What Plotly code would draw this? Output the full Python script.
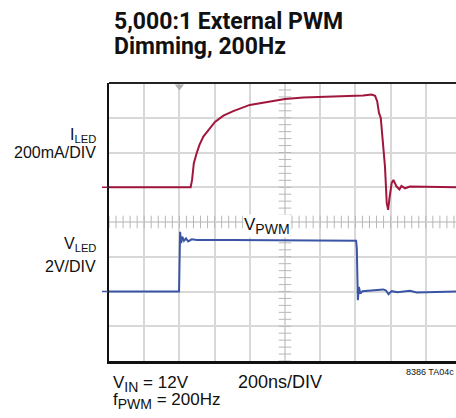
import numpy as np
import plotly.graph_objects as go

# ---- data (time in divisions, value in divisions) ----
i_led_t = [0, 2.32, 2.36, 2.41, 2.49, 2.57, 2.68, 2.82, 3.01, 3.25, 3.53, 4.0, 4.48, 5.0, 5.52,
           5.99, 6.56, 7.22, 7.46, 7.56, 7.62, 7.67, 7.72, 7.77, 7.84, 7.89, 7.93, 7.97, 8.03,
           8.08, 8.17, 8.25, 8.31, 8.41, 8.55, 10.0]
i_led_v = [5.0, 5.0, 5.21, 5.69, 5.98, 6.22, 6.46, 6.65, 6.88, 7.06, 7.19, 7.37, 7.46, 7.54, 7.58,
           7.60, 7.61, 7.64, 7.67, 7.63, 7.47, 7.14, 7.0, 6.46, 5.6, 4.55, 4.35, 4.7, 5.12,
           5.21, 5.02, 4.94, 5.04, 4.97, 5.02, 5.0]

v_led_t = [0, 1.99, 2.02, 2.05, 2.08, 2.13, 2.19, 2.25, 2.35, 2.5, 3.5, 6.94, 7.02, 7.04, 7.05,
           7.07, 7.10, 7.14, 7.2, 7.79, 7.87, 7.94, 8.03, 8.2, 8.55, 8.74, 10.0]
v_led_v = [2.0, 2.0, 3.72, 3.39, 3.58, 3.46, 3.53, 3.44, 3.50, 3.48, 3.48, 3.48, 3.46, 3.24, 2.62,
           1.75, 2.13, 1.94, 2.01, 2.06, 2.03, 1.92, 2.01, 1.98, 2.02, 1.97, 2.0]

i_led_ref = 5.0
v_led_ref = 2.0
trigger_t = 2.0

RED = "#a0163c"
BLUE = "#3b55a6"
GRID = "#d8d8d8"
TICK = "#b8b8b8"

W, H = 456, 418
ML, MR, MT, MB = 109, 0, 83, 57
pw, ph = W - ML - MR, H - MT - MB
div_x = 35.2
xmax = pw / div_x

def px(x):
    return (x - ML) / pw

def py(y):
    return (H - MB - y) / ph

fig = go.Figure()

# graticule minor ticks on the centre lines
minor_x = np.arange(0, 10.01, 0.2)
minor_y = np.arange(0, 8.01, 0.2)
fig.add_trace(go.Scatter(x=minor_x, y=[4] * len(minor_x), mode="markers",
                         marker=dict(symbol="line-ns", size=9, line=dict(width=1, color=TICK)),
                         hoverinfo="skip", showlegend=False))
fig.add_trace(go.Scatter(x=[5] * len(minor_y), y=minor_y, mode="markers",
                         marker=dict(symbol="line-ew", size=9, line=dict(width=1, color=TICK)),
                         hoverinfo="skip", showlegend=False))

fig.add_trace(go.Scatter(x=i_led_t, y=i_led_v, mode="lines",
                         line=dict(color=RED, width=2), showlegend=False))
fig.add_trace(go.Scatter(x=v_led_t, y=v_led_v, mode="lines",
                         line=dict(color=BLUE, width=2), showlegend=False))

# trigger marker
fig.add_trace(go.Scatter(x=[trigger_t], y=[7.9], mode="markers",
                         marker=dict(symbol="triangle-down", size=8, color="#b0b0b0"),
                         cliponaxis=False, hoverinfo="skip", showlegend=False))

shapes = [
    dict(type="line", xref="paper", yref="paper", x0=0, x1=1, y0=1, y1=1,
         line=dict(color="#222222", width=2)),
    dict(type="line", xref="paper", yref="y", x0=-7 / pw, x1=-1 / pw, y0=i_led_ref, y1=i_led_ref,
         line=dict(color=RED, width=1.5)),
    dict(type="line", xref="paper", yref="y", x0=-7 / pw, x1=-1 / pw, y0=v_led_ref, y1=v_led_ref,
         line=dict(color=BLUE, width=1.5)),
]

TF = "Roboto, Liberation Sans, Arial, sans-serif"
RF = "Liberation Sans, Arial, sans-serif"

def ann(text, x, y, size, fam=RF, xanchor="left", bg=None):
    d = dict(text=text, xref="paper", yref="paper", x=px(x), y=py(y), xanchor=xanchor,
             yanchor="middle", showarrow=False, font=dict(family=fam, size=size, color="#111111"))
    if bg:
        d["bgcolor"] = bg
        d["borderpad"] = 0
    return d

def sub(t, s):
    return "<sub><span style='font-size:%dpx'>%s</span></sub>" % (s, t)

annotations = [
    ann("<b>5,000:1 External PWM</b>", 112, 21.7, 23, TF),
    ann("<b>Dimming, 200Hz</b>", 112, 46.5, 23, TF),
    ann("I<sub>LED</sub>", 98, 135, 16, xanchor="right"),
    ann("200mA/DIV", 98, 152, 16, xanchor="right"),
    ann("V<sub>LED</sub>", 98, 244, 16, xanchor="right"),
    ann("2V/DIV", 98, 266, 16, xanchor="right"),
    ann("V" + sub("PWM", 14), 243, 226, 17, bg="white"),
    ann("V" + sub("IN", 14) + " = 12V", 111, 384, 17),
    ann("f" + sub("PWM", 14) + " = 200Hz", 111, 400.5, 17),
    ann("200ns/DIV", 236, 382, 18),
    ann("8386 TA04c", 456, 371.5, 9, xanchor="right"),
]

fig.update_layout(
    width=W, height=H, margin=dict(l=ML, r=MR, t=MT, b=MB, pad=0, autoexpand=False),
    paper_bgcolor="white", plot_bgcolor="white",
    shapes=shapes, annotations=annotations,
    xaxis=dict(range=[0, xmax], dtick=1, tick0=0, showgrid=True, gridcolor=GRID, gridwidth=1.5,
               showticklabels=False, ticks="", zeroline=False, showline=True,
               linecolor="#111111", linewidth=2.5, fixedrange=True),
    yaxis=dict(range=[0, 8], dtick=1, tick0=0, showgrid=True, gridcolor=GRID, gridwidth=1.5,
               showticklabels=False, ticks="", zeroline=False, showline=True,
               linecolor="#111111", linewidth=2, fixedrange=True),
)

fig.write_html("out.html", config={"displayModeBar": False},
               post_script="document.body.style.margin='0';document.body.style.overflow='hidden';")
